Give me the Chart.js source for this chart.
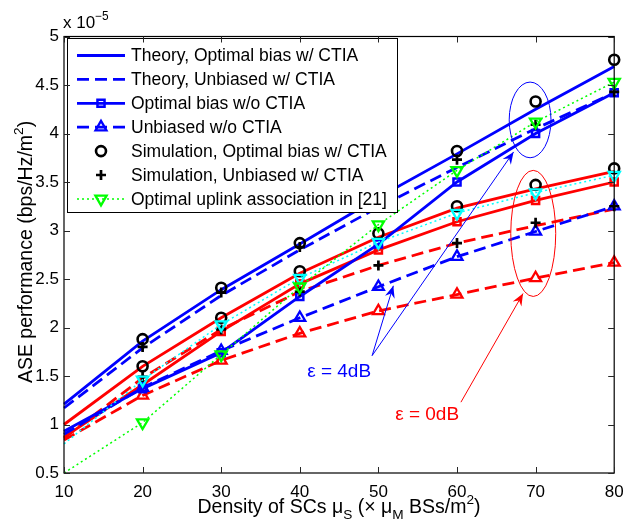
<!DOCTYPE html>
<html><head><meta charset="utf-8">
<script src="https://cdn.jsdelivr.net/npm/chart.js@4/dist/chart.umd.min.js"></script>
<style>html,body{margin:0;padding:0;background:#fff;}</style>
</head><body>
<canvas id="c" width="623" height="519"></canvas>
<script>
// ---------------- data ----------------
const densities = [10, 20, 30, 40, 50, 60, 70, 80];
const yTickValues = [0.5, 1, 1.5, 2, 2.5, 3, 3.5, 4, 4.5, 5];
const xTickValues = [10, 20, 30, 40, 50, 60, 70, 80];
// epsilon = 4 dB (blue curves)
const theoryOptimalBias_4dB = [1.21, 1.86, 2.39, 2.86, 3.34, 3.79, 4.25, 4.69];
const theoryUnbiased_4dB    = [1.17, 1.79, 2.33, 2.80, 3.24, 3.65, 4.05, 4.42];
const optimalBiasNoCTIA_4dB = [0.93, 1.37, 1.74, 2.32, 2.86, 3.50, 4.00, 4.42];
const unbiasedNoCTIA_4dB    = [0.90, 1.38, 1.76, 2.10, 2.42, 2.73, 2.99, 3.25];
const simOptimalBias_4dB    = [null, 1.88, 2.41, 2.87, 3.30, 3.82, 4.33, 4.76];
const simUnbiased_4dB       = [null, 1.80, 2.36, 2.83, 3.25, 3.73, 4.09, 4.43];
const uplinkRef21_4dB       = [0.50, 1.02, 1.72, 2.42, 3.06, 3.62, 4.12, 4.53];
// epsilon = 0 dB (red curves)
const theoryOptimalBias_0dB = [1.00, 1.60, 2.10, 2.56, 2.93, 3.23, 3.43, 3.61];
const theoryUnbiased_0dB    = [0.86, 1.48, 1.98, 2.37, 2.64, 2.87, 3.05, 3.22];
const optimalBiasNoCTIA_0dB = [0.87, 1.41, 1.96, 2.45, 2.80, 3.09, 3.31, 3.50];
const unbiasedNoCTIA_0dB    = [0.84, 1.30, 1.66, 1.94, 2.17, 2.34, 2.51, 2.67];
const simOptimalBias_0dB    = [null, 1.60, 2.10, 2.58, 2.97, 3.25, 3.47, 3.64];
const simUnbiased_0dB       = [null, 1.49, 1.98, 2.37, 2.64, 2.87, 3.08, 3.25];
const uplinkRef21_0dB       = [0.80, 1.46, 2.03, 2.51, 2.88, 3.18, 3.39, 3.57];

const legendLabels = [
  'Theory, Optimal bias w/ CTIA',
  'Theory, Unbiased w/ CTIA',
  'Optimal bias w/o CTIA',
  'Unbiased w/o CTIA',
  'Simulation, Optimal bias w/ CTIA',
  'Simulation, Unbiased w/ CTIA',
  'Optimal uplink association in [21]'
];

// ---------------- styles ----------------
const FONT = "'Liberation Sans', Arial, Helvetica, sans-serif";
const FS = 17;
const TITLE_FS = 19.5;
const BLUE = '#0000ff', RED = '#ff0000', GREEN = '#00ff00', CYAN = '#00ffff', BLACK = '#000000';
const LW = 2.8;
const DASH = [12, 6];
const DOT = [2, 3];
const skipFirst = r => (ctx => ctx.dataIndex === 0 ? 0 : r);

const STYLE = {
  solid:  {borderDash: []},
  dashed: {borderDash: DASH},
  dotted: {borderDash: DOT, borderWidth: 1.5}
};
const MARK = {
  none:   {pointRadius: 0},
  square: {pointStyle: 'rect', pointRadius: skipFirst(5), pointBorderWidth: 2.5},
  tri:    {pointStyle: 'triangle', pointRadius: skipFirst(6.3), pointBorderWidth: 2.3},
  triDn:  {pointStyle: 'triangle', pointRotation: 180, pointRadius: skipFirst(6.5), pointBorderWidth: 2.3},
  circle: {pointStyle: 'circle', pointRadius: 5, pointBorderWidth: 2.6},
  plus:   {pointStyle: 'cross', pointRadius: 5, pointBorderWidth: 2.7}
};

function ds(values, color, lineStyle, marker, markerColor) {
  const base = {
    data: densities.map((x, i) => ({x, y: values[i]})),
    borderColor: color,
    backgroundColor: 'rgba(0,0,0,0)',
    borderWidth: LW,
    pointBorderColor: markerColor || color,
    pointBackgroundColor: 'rgba(0,0,0,0)',
    pointHoverRadius: 0,
    tension: 0,
    clip: false,
    showLine: lineStyle !== null
  };
  if (lineStyle) Object.assign(base, STYLE[lineStyle]);
  Object.assign(base, MARK[marker]);
  return base;
}

// first listed = drawn on top
const datasets = [
  ds(uplinkRef21_4dB, GREEN, 'dotted', 'triDn'),
  ds(uplinkRef21_0dB, CYAN, 'dotted', 'triDn'),
  ds(simOptimalBias_4dB, BLACK, null, 'circle'),
  ds(simOptimalBias_0dB, BLACK, null, 'circle'),
  ds(simUnbiased_4dB, BLACK, null, 'plus'),
  ds(simUnbiased_0dB, BLACK, null, 'plus'),
  ds(optimalBiasNoCTIA_4dB, BLUE, 'solid', 'square'),
  ds(unbiasedNoCTIA_4dB, BLUE, 'dashed', 'tri'),
  ds(optimalBiasNoCTIA_0dB, RED, 'solid', 'square'),
  ds(unbiasedNoCTIA_0dB, RED, 'dashed', 'tri'),
  ds(theoryOptimalBias_4dB, BLUE, 'solid', 'none'),
  ds(theoryUnbiased_4dB, BLUE, 'dashed', 'none'),
  ds(theoryOptimalBias_0dB, RED, 'solid', 'none'),
  ds(theoryUnbiased_0dB, RED, 'dashed', 'none')
];

// ---------------- helpers ----------------
function richText(ctx, segs, x, y, align, size) {
  const fontFor = m => (m ? size * 0.7 : size) + 'px ' + FONT;
  let total = 0; const w = [];
  segs.forEach(([t, m]) => { ctx.font = fontFor(m); const v = ctx.measureText(t).width; w.push(v); total += v; });
  let cx = align === 'center' ? x - total / 2 : x;
  ctx.textAlign = 'left'; ctx.textBaseline = 'alphabetic';
  segs.forEach(([t, m], i) => {
    ctx.font = fontFor(m);
    const dy = m === 1 ? -size * 0.45 : (m === -1 ? size * 0.3 : 0);
    ctx.fillText(t, cx, y + dy); cx += w[i];
  });
}
function arrow(ctx, x1, y1, x2, y2, color) {
  ctx.save();
  ctx.strokeStyle = color; ctx.fillStyle = color; ctx.lineWidth = 1;
  ctx.beginPath(); ctx.moveTo(x1, y1); ctx.lineTo(x2, y2); ctx.stroke();
  const a = Math.atan2(y2 - y1, x2 - x1), L = 12, W = 5, N = 4;
  const c = Math.cos(a), s = Math.sin(a);
  const bx = x2 - L * c, by = y2 - L * s, nx = -s, ny = c;
  ctx.beginPath();
  ctx.moveTo(x2, y2);
  ctx.lineTo(bx + nx * W, by + ny * W);
  ctx.lineTo(x2 - (L - N) * c, y2 - (L - N) * s);
  ctx.lineTo(bx - nx * W, by - ny * W);
  ctx.closePath(); ctx.fill();
  ctx.restore();
}

// annotation anchors in data coordinates
const note4dB = {text: 'ε = 4dB', x: 45.0, y: 1.54, color: BLUE};
const note0dB = {text: 'ε = 0dB', x: 56.2, y: 1.10, color: RED};
const ellipse4dB = {cx: 69.3, cy: 4.14, rx: 2.66, ry: 0.39, color: BLUE};
const ellipse0dB = {cx: 69.7, cy: 2.97, rx: 2.86, ry: 0.65, color: RED};
const arrows = [
  {from: [49.2, 1.71], to: [51.9, 2.43], color: BLUE},
  {from: [49.2, 1.71], to: [67.2, 3.81], color: BLUE},
  {from: [60.5, 1.23], to: [68.4, 2.35], color: RED}
];
const legendStyles = [
  {color: BLUE, line: 'solid', marker: null},
  {color: BLUE, line: 'dashed', marker: null},
  {color: BLUE, line: 'solid', marker: 'rect'},
  {color: BLUE, line: 'dashed', marker: 'triangle'},
  {color: BLACK, line: null, marker: 'circle'},
  {color: BLACK, line: null, marker: 'cross'},
  {color: GREEN, line: 'dotted', marker: 'triDn'}
];

const deco = {
  id: 'deco',
  afterDatasetsDraw(chart) {
    const {ctx, chartArea: a, scales: {x, y}} = chart;
    const px = v => x.getPixelForValue(v), py = v => y.getPixelForValue(v);
    ctx.save();
    // ellipses
    [ellipse4dB, ellipse0dB].forEach(e => {
      ctx.strokeStyle = e.color; ctx.lineWidth = 1; ctx.setLineDash([]);
      ctx.beginPath();
      ctx.ellipse(px(e.cx), py(e.cy), Math.abs(px(e.cx + e.rx) - px(e.cx)), Math.abs(py(e.cy + e.ry) - py(e.cy)), 0, 0, Math.PI * 2);
      ctx.stroke();
    });
    arrows.forEach(r => arrow(ctx, px(r.from[0]), py(r.from[1]), px(r.to[0]), py(r.to[1]), r.color));
    [note4dB, note0dB].forEach(n => {
      ctx.fillStyle = n.color; ctx.font = '19px ' + FONT;
      ctx.textAlign = 'center'; ctx.textBaseline = 'middle';
      ctx.fillText(n.text, px(n.x), py(n.y));
    });
    // legend box
    const lx = a.left + 3, ly = a.top + 1.5, lw = 330, lh = 174, row = 23.9;
    ctx.fillStyle = '#fff'; ctx.fillRect(lx, ly, lw, lh);
    ctx.strokeStyle = '#000'; ctx.lineWidth = 1; ctx.strokeRect(lx + 0.5, ly + 0.5, lw, lh);
    legendLabels.forEach((lab, i) => {
      const st = legendStyles[i];
      const cy = ly + 17.5 + i * row;
      if (st.line) {
        ctx.strokeStyle = st.color;
        ctx.lineWidth = st.line === 'dotted' ? 1.5 : LW;
        ctx.setLineDash(st.line === 'dashed' ? DASH : (st.line === 'dotted' ? DOT : []));
        ctx.beginPath(); ctx.moveTo(lx + 10, cy); ctx.lineTo(lx + 58, cy); ctx.stroke();
        ctx.setLineDash([]);
      }
      const mx = lx + 34;
      ctx.strokeStyle = st.color; ctx.fillStyle = 'rgba(0,0,0,0)';
      if (st.marker === 'rect') { ctx.lineWidth = 2.5; Chart.helpers.drawPoint(ctx, {pointStyle: 'rect', radius: 5, borderWidth: 2.5}, mx, cy); }
      if (st.marker === 'triangle') { ctx.lineWidth = 2.3; Chart.helpers.drawPoint(ctx, {pointStyle: 'triangle', radius: 6.3, borderWidth: 2.3}, mx, cy); }
      if (st.marker === 'triDn') { ctx.lineWidth = 2.3; Chart.helpers.drawPoint(ctx, {pointStyle: 'triangle', rotation: 180, radius: 6.5, borderWidth: 2.3}, mx, cy); }
      if (st.marker === 'circle') { ctx.lineWidth = 2.6; Chart.helpers.drawPoint(ctx, {pointStyle: 'circle', radius: 5, borderWidth: 2.6}, mx, cy); }
      if (st.marker === 'cross') { ctx.lineWidth = 2.7; Chart.helpers.drawPoint(ctx, {pointStyle: 'cross', radius: 5, borderWidth: 2.7}, mx, cy); }
      ctx.fillStyle = '#000'; ctx.font = '17.5px ' + FONT;
      ctx.textAlign = 'left'; ctx.textBaseline = 'middle';
      ctx.fillText(lab, lx + 64, cy + 1);
    });
    // axes box and inward ticks
    ctx.strokeStyle = '#000'; ctx.lineWidth = 1.2; ctx.setLineDash([]);
    ctx.strokeRect(a.left, a.top, a.right - a.left, a.bottom - a.top);
    ctx.strokeStyle = '#262626'; ctx.lineWidth = 1;
    ctx.beginPath();
    xTickValues.forEach(v => {
      const X = Math.round(px(v)) + 0.5;
      ctx.moveTo(X, a.bottom); ctx.lineTo(X, a.bottom - 6);
      ctx.moveTo(X, a.top); ctx.lineTo(X, a.top + 6);
    });
    yTickValues.forEach(v => {
      const Y = Math.round(py(v)) + 0.5;
      ctx.moveTo(a.left, Y); ctx.lineTo(a.left + 6, Y);
      ctx.moveTo(a.right, Y); ctx.lineTo(a.right - 6, Y);
    });
    ctx.stroke();
    ctx.restore();
  },
  afterDraw(chart) {
    const {ctx} = chart;
    ctx.save();
    ctx.fillStyle = '#000';
    // exponent
    richText(ctx, [['x 10', 0], ['−5', 1]], 63, 28, 'left', FS);
    // x title
    richText(ctx, [['Density of SCs μ', 0], ['S', -1], [' (× μ', 0], ['M', -1], [' BSs/m', 0], ['2', 1], [')', 0]], 339, 513, 'center', TITLE_FS);
    // y title
    ctx.translate(32, 252); ctx.rotate(-Math.PI / 2);
    richText(ctx, [['ASE performance (bps/Hz/m', 0], ['2', 1], [')', 0]], 0, 0, 'center', TITLE_FS);
    ctx.restore();
  }
};

new Chart(document.getElementById('c'), {
  type: 'scatter',
  data: {datasets},
  options: {
    responsive: false, animation: false, devicePixelRatio: 1,
    layout: {padding: {top: 36.5, right: 8, left: 0, bottom: 0}},
    plugins: {legend: {display: false}, tooltip: {enabled: false}},
    scales: {
      x: {
        type: 'linear', min: 10, max: 80,
        grid: {display: false, drawTicks: false}, border: {display: false},
        afterBuildTicks: s => { s.ticks = xTickValues.map(v => ({value: v})); },
        ticks: {color: '#000', font: {family: FONT, size: FS}, padding: 9, maxRotation: 0, autoSkip: false, callback: v => String(v)},
        afterFit: s => { s.height = 46; s.paddingLeft = 0; s.paddingRight = 0; }
      },
      y: {
        type: 'linear', min: 0.5, max: 5,
        grid: {display: false, drawTicks: false}, border: {display: false},
        afterBuildTicks: s => { s.ticks = yTickValues.map(v => ({value: v})); },
        ticks: {color: '#000', font: {family: FONT, size: FS}, padding: 5, autoSkip: false, callback: v => String(v)},
        afterFit: s => { s.width = 64; s.paddingTop = 0; s.paddingBottom = 0; }
      }
    }
  },
  plugins: [deco]
});
</script>
</body></html>
